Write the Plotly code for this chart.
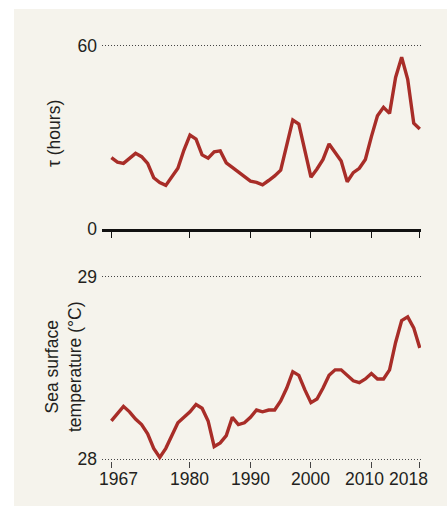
import plotly.graph_objects as go

# ---- data ----
years = list(range(1967, 2019))
tau_hours = [23.3, 21.8, 21.4, 23.1, 24.7, 23.6, 21.4, 16.7, 15.1, 14.2,
             17.0, 19.8, 25.8, 30.7, 29.4, 24.2, 23.1, 25.2, 25.5, 21.6,
             20.1, 18.7, 17.0, 15.6, 15.2, 14.4, 15.8, 17.3, 19.2, 27.4,
             35.6, 34.3, 25.4, 16.9, 19.6, 22.7, 27.8, 25.0, 22.2, 15.4,
             18.4, 19.8, 22.7, 30.2, 37.0, 39.8, 37.8, 49.6, 56.2, 49.0,
             34.6, 32.7]
sst = [28.21, 28.25, 28.29, 28.26, 28.22, 28.19, 28.14, 28.06, 28.01, 28.06,
       28.13, 28.20, 28.23, 28.26, 28.30, 28.28, 28.21, 28.07, 28.09, 28.13,
       28.23, 28.19, 28.20, 28.23, 28.27, 28.26, 28.27, 28.27, 28.32, 28.39,
       28.48, 28.46, 28.38, 28.31, 28.33, 28.39, 28.46, 28.49, 28.49, 28.46,
       28.43, 28.42, 28.44, 28.47, 28.44, 28.44, 28.49, 28.64, 28.76, 28.78,
       28.72, 28.61]
tick_years = [1967, 1980, 1990, 2000, 2010, 2018]
tick_labels = ["1967", "1980", "1990", "2000", "2010", "2018"]
tau_ticks = [0, 60]
sst_ticks = [28, 29]

# ---- style ----
LINE = "#A82D28"
TXT = "#231F20"
BG = "#F5F3EC"
GRID = "#444444"
FONT = "Liberation Sans, Arial, sans-serif"
FS = 17.5
label_xshift = [7, 0, 0, 0, -7, -11]
W, H = 447, 507
L, R, T, B = 102, 26, 44, 46
PW, PH = W - L - R, H - T - B

def px_x(p):
    return (p - L) / PW

def px_y(p):
    return (H - B - p) / PH

# pixel rows of the value gridlines in the layout
TAU0, TAU60 = 228.7, 45.7
SST28, SST29 = 459.3, 276.7
tau_pp = (TAU0 - TAU60) / 60.0
sst_pp = (SST28 - SST29) / 1.0

fig = go.Figure()
fig.add_trace(go.Scatter(x=years, y=tau_hours, mode="lines",
                         line=dict(color=LINE, width=3.4), xaxis="x", yaxis="y",
                         hoverinfo="skip"))
fig.add_trace(go.Scatter(x=years, y=sst, mode="lines",
                         line=dict(color=LINE, width=3.4), xaxis="x2", yaxis="y2",
                         hoverinfo="skip"))

xr = [1965.45, 2018.2]
tau_range = [0, 60 + (TAU60 - T) / tau_pp]
sst_range = [28 - ((H - B) - SST28) / sst_pp, 29 + 2 / sst_pp]
fig.update_layout(
    width=W, height=H,
    margin=dict(l=L, r=R, t=T, b=B, pad=0),
    paper_bgcolor="white", plot_bgcolor="rgba(0,0,0,0)",
    showlegend=False,
    font=dict(family=FONT, size=FS, color=TXT),
    xaxis=dict(domain=[0, 1], anchor="y", range=xr, tickvals=tick_years,
               showticklabels=False, ticks="outside", ticklen=7, tickwidth=1.3,
               tickcolor="#111", showline=True, linecolor="#111", linewidth=2.5,
               showgrid=False, zeroline=False, fixedrange=True),
    yaxis=dict(domain=[px_y(TAU0), 1], anchor="x", range=tau_range, tickvals=tau_ticks,
               showgrid=True, gridcolor=GRID, gridwidth=1, griddash="1px,2px",
               zeroline=False, showline=False, ticks="", ticklabelstandoff=4,
               tickfont=dict(size=FS, color=TXT)),
    xaxis2=dict(domain=[0, 1], anchor="y2", range=xr, tickvals=tick_years,
                showticklabels=False, ticks="outside", ticklen=6, tickwidth=1.3,
                tickcolor="#444", showline=False, showgrid=False, zeroline=False),
    yaxis2=dict(domain=[0, px_y(SST29 - 2)], anchor="x2", range=sst_range, tickvals=sst_ticks,
                showgrid=True, gridcolor=GRID, gridwidth=1, griddash="1px,2px",
                zeroline=False, showline=False, ticks="", ticklabelstandoff=4,
                tickfont=dict(size=FS, color=TXT)),
)

fig.add_shape(type="rect", xref="paper", yref="paper",
              x0=px_x(14), x1=px_x(447), y0=px_y(506), y1=px_y(9),
              fillcolor=BG, line=dict(width=0), layer="below")

for yr, lab, dx in zip(tick_years, tick_labels, label_xshift):
    fig.add_annotation(x=yr, xref="x2", y=px_y(SST28), yref="paper", text=lab,
                       showarrow=False, xanchor="center", yanchor="top",
                       xshift=dx, yshift=-8, font=dict(size=FS, color=TXT))

fig.add_annotation(x=px_x(54), y=px_y(134), xref="paper", yref="paper",
                   text="τ (hours)", textangle=-90, showarrow=False,
                   xanchor="center", yanchor="middle", font=dict(size=FS, color=TXT))
fig.add_annotation(x=px_x(63), y=px_y(367), xref="paper", yref="paper",
                   text="Sea surface<br>temperature (°C)", textangle=-90, showarrow=False,
                   xanchor="center", yanchor="middle", font=dict(size=FS, color=TXT))

fig.write_html("out.html")
